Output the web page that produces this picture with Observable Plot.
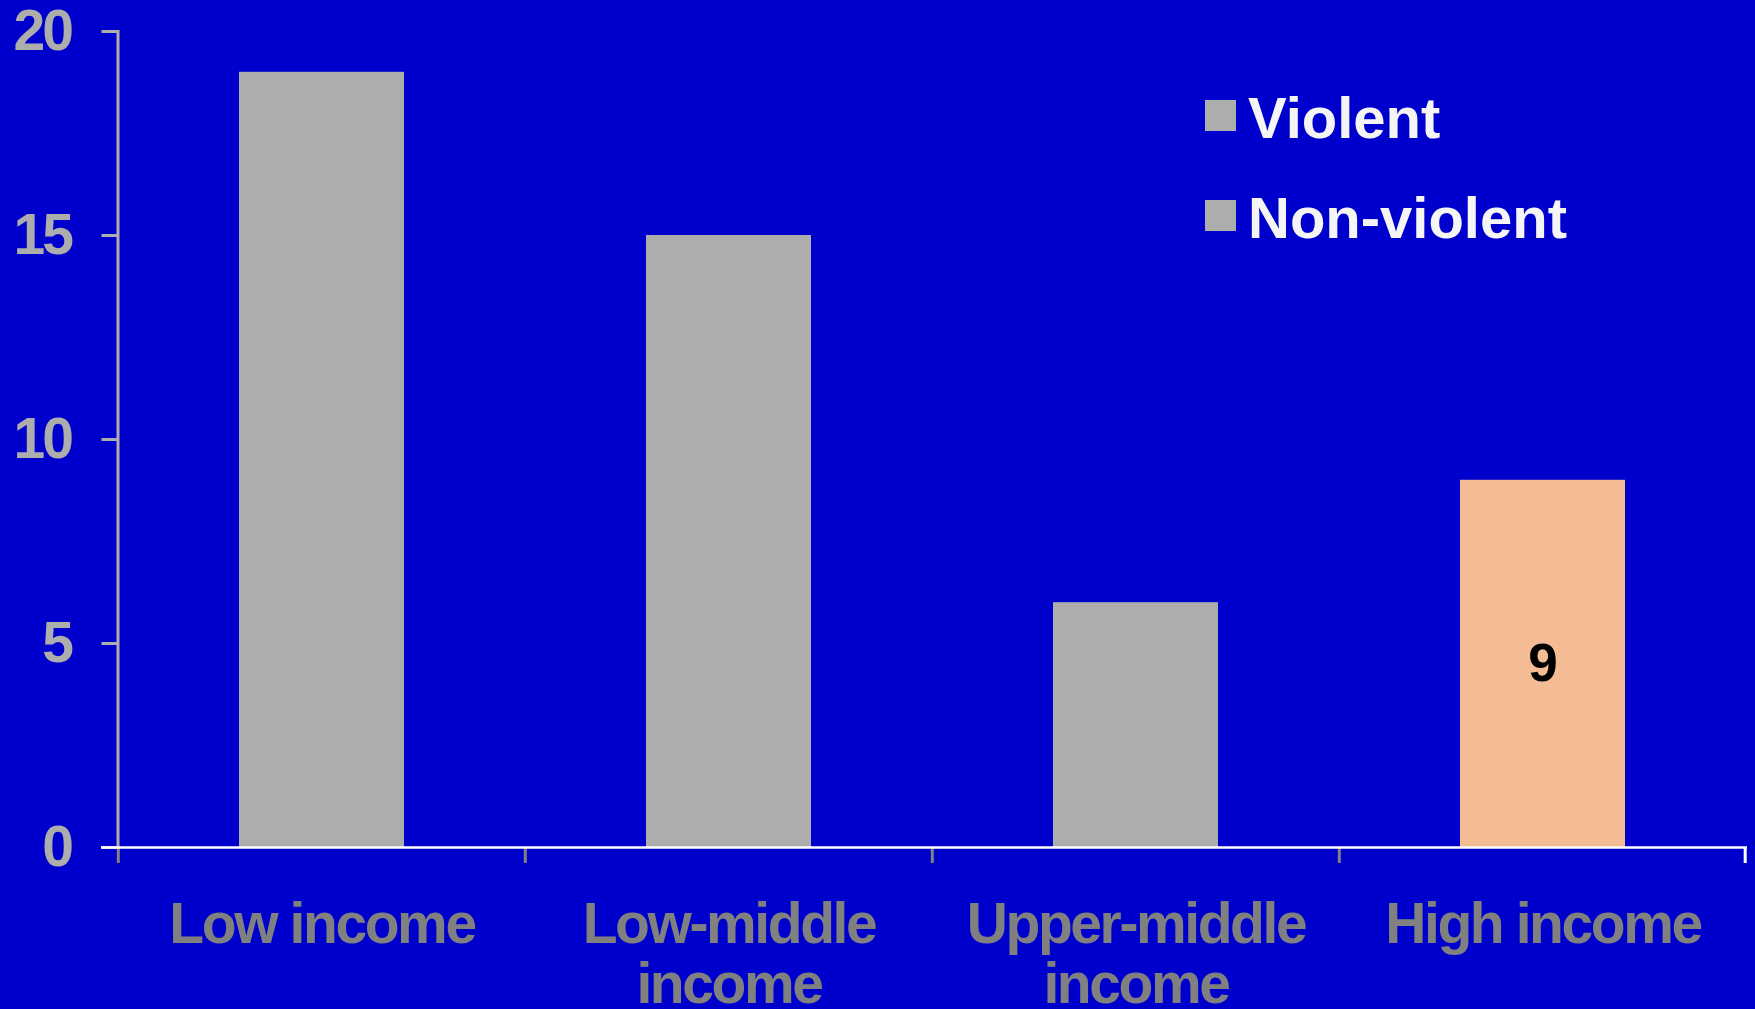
<!DOCTYPE html>
<html>
<head>
<meta charset="utf-8">
<script src="https://cdn.jsdelivr.net/npm/d3@7"></script>
<script src="https://cdn.jsdelivr.net/npm/@observablehq/plot@0.6"></script>
<style>
  html, body { margin: 0; padding: 0; background: #0000CC; }
  #wrap { position: relative; width: 1755px; height: 1009px; overflow: hidden; }
  #wrap svg [aria-label="x-axis tick label"] text { letter-spacing: -2.4px; }
  #wrap svg [aria-label="y-axis tick label"] text { letter-spacing: -3px; }
  .leg-item { position: absolute; left: 1205px; height: 64px; }
  .leg-swatch { position: absolute; left: 0; width: 31px; height: 31px; }
  .leg-text { position: absolute; left: 43px; top: 0; white-space: nowrap;
    font-family: "Liberation Sans", Arial, sans-serif; font-weight: bold;
    font-size: 58px; line-height: 58px; color: #F5F5F5; }
</style>
</head>
<body>
<div id="wrap"></div>
<script>
// ---- data ----
const categories = ["Low income", "Low-middle income", "Upper-middle income", "High income"];
const tickLabels = ["Low income", "Low-middle\nincome", "Upper-middle\nincome", "High income"];
const values = [19, 15, 6, 9];
const barColors = ["#ADADAD", "#ADADAD", "#ADADAD", "#F4BC94"];
const valueLabels = [null, null, null, "9"];
const yTicks = [0, 5, 10, 15, 20];
const legendItems = ["Violent", "Non-violent"];
const legendColors = ["#ADADAD", "#ADADAD"];

const data = categories.map((c, i) => ({
  category: c, value: values[i], color: barColors[i], label: valueLabels[i]
}));

// ---- layout ----
const W = 1755, H = 1009;
const mL = 117.5, mR = 8, mT = 31, mB = 162;
const step = (W - mL - mR) / categories.length;

const chart = Plot.plot({
  width: W,
  height: H,
  marginLeft: mL,
  marginRight: mR,
  marginTop: mT,
  marginBottom: mB,
  style: {
    background: "#0000CC",
    fontFamily: "'Liberation Sans', Arial, sans-serif",
    fontWeight: "bold",
    overflow: "visible"
  },
  x: { domain: categories, paddingInner: 0.595, paddingOuter: 0.2975, axis: null },
  y: { domain: [0, 20], axis: null },
  color: { type: "identity" },
  marks: [
    Plot.barY(data, { x: "category", y: "value", fill: "color" }),
    Plot.text(data.filter(d => d.label), {
      x: "category", y: d => d.value / 2, text: "label",
      fill: "black", fontSize: 53, fontWeight: "bold"
    }),
    // y axis line
    Plot.frame({ anchor: "left", stroke: "#ADADAD", strokeWidth: 3 }),
    Plot.axisY({
      ticks: yTicks, tickSize: 16, tickPadding: 31, label: null,
      stroke: "#ADADAD", strokeWidth: 3, fill: "#ADADAD",
      fontSize: 57, fontWeight: "bold"
    }),
    // x axis ticks at band boundaries
    Plot.axisX({
      tickSize: 16, tickFormat: () => "", label: null, dx: -step / 2,
      stroke: "#808080", strokeWidth: 3
    }),
    Plot.axisX({
      ticks: [categories[categories.length - 1]], tickSize: 16, tickFormat: () => "",
      label: null, dx: step / 2 - 1.5, stroke: "white", strokeWidth: 3
    }),
    // x axis baseline
    Plot.ruleY([0], { stroke: "white", strokeWidth: 2.5, insetLeft: -16.5 }),
    // x axis labels
    Plot.axisX({
      tickSize: 0, tickPadding: 53, label: null,
      tickFormat: d => tickLabels[categories.indexOf(d)],
      fill: "#808080", fontSize: 57, fontWeight: "bold", lineHeight: 1.05
    })
  ]
});

const wrap = document.getElementById("wrap");
wrap.appendChild(chart);

// ---- legend ----
const legTops = [89, 189];
legendItems.forEach((name, i) => {
  const item = document.createElement("div");
  item.className = "leg-item";
  item.style.top = legTops[i] + "px";
  const sw = document.createElement("div");
  sw.className = "leg-swatch";
  sw.style.background = legendColors[i];
  sw.style.top = "11px";
  const tx = document.createElement("div");
  tx.className = "leg-text";
  tx.textContent = name;
  item.appendChild(sw);
  item.appendChild(tx);
  wrap.appendChild(item);
});
</script>
</body>
</html>
